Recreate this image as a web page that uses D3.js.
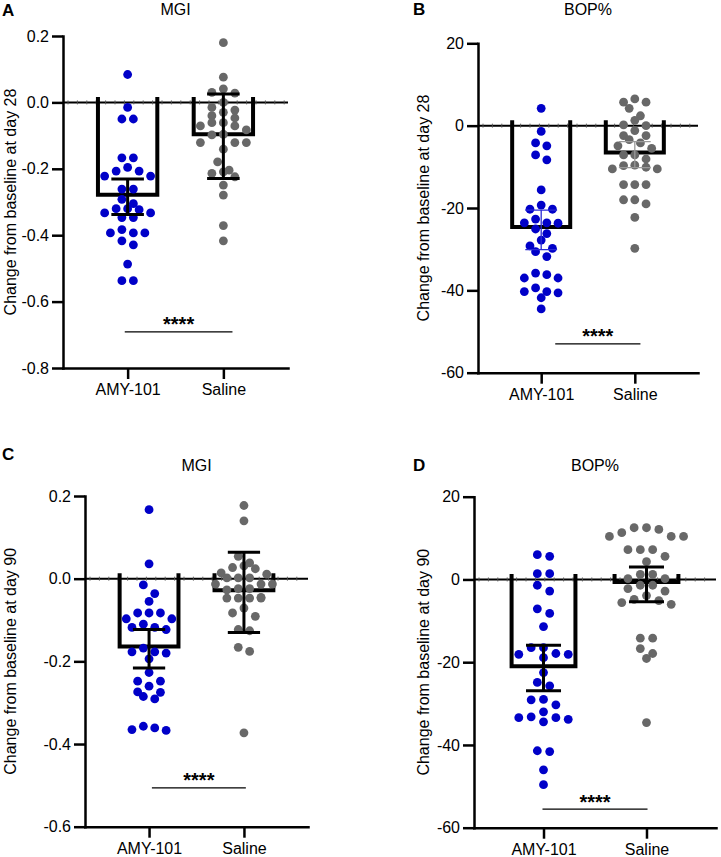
<!DOCTYPE html>
<html><head><meta charset="utf-8">
<script src="https://cdn.jsdelivr.net/npm/d3@7"></script>
<style>
body{margin:0;background:#fff}
svg{display:block}
text{font-family:"Liberation Sans",Arial,Helvetica,sans-serif;fill:#000}
</style>
</head><body>
<svg id="chart" width="721" height="857"></svg>
<script>
// ---------------- data ----------------
const categories = ["AMY-101", "Saline"];
const panelLetters = ["A", "B", "C", "D"];
const panelTitles = ["MGI", "BOP%", "MGI", "BOP%"];
const yAxisTitles = ["Change from baseline at day 28", "Change from baseline at day 28",
                     "Change from baseline at day 90", "Change from baseline at day 90"];
const yTicksMGI28 = [0.2, 0.0, -0.2, -0.4, -0.6, -0.8];
const yTicksBOP28 = [20, 0, -20, -40, -60];
const yTicksMGI90 = [0.2, 0.0, -0.2, -0.4, -0.6];
const yTicksBOP90 = [20, 0, -20, -40, -60];

const mgi28Amy = [0.084, -0.015, -0.050, -0.050, -0.167, -0.167, -0.196, -0.207, -0.207, -0.222, -0.222,
  -0.261, -0.261, -0.292, -0.305, -0.320, -0.320, -0.323, -0.333, -0.333, -0.347, -0.347, -0.383, -0.393,
  -0.393, -0.393, -0.417, -0.429, -0.487, -0.537, -0.537];
const mgi28Saline = [0.180, 0.076, 0.041, 0.030, 0.028, 0.000, -0.015, -0.023, -0.030, -0.040, -0.047,
  -0.061, -0.061, -0.071, -0.071, -0.083, -0.096, -0.098, -0.121, -0.121, -0.121, -0.141, -0.179, -0.204,
  -0.209, -0.214, -0.224, -0.249, -0.279, -0.371, -0.417];
const bop28Amy = [4.2, -1.4, -4.2, -4.9, -7.1, -8.3, -15.6, -19.3, -20.3, -20.3, -22.7, -23.6, -23.6, -23.7,
  -25.1, -26.2, -27.8, -29.2, -29.8, -30.6, -31.8, -35.8, -36.2, -37.0, -37.0, -39.4, -40.3, -40.3, -40.6,
  -41.8, -44.5];
const bop28Saline = [6.5, 5.7, 5.7, 4.2, 2.4, 1.3, 0.2, 0.0, -1.2, -2.4, -2.4, -3.4, -4.2, -4.9, -5.5, -7.1,
  -7.1, -8.1, -9.6, -9.7, -10.1, -10.5, -10.5, -14.3, -14.3, -14.3, -18.0, -18.0, -19.0, -22.3, -29.8];
const mgi90Amy = [0.167, 0.036, -0.015, -0.036, -0.055, -0.083, -0.083, -0.083, -0.097, -0.097, -0.110,
  -0.118, -0.118, -0.123, -0.168, -0.177, -0.177, -0.180, -0.194, -0.227, -0.248, -0.248, -0.260, -0.274,
  -0.275, -0.285, -0.291, -0.357, -0.361, -0.365, -0.367];
const mgi90Saline = [0.177, 0.140, 0.054, 0.038, 0.031, 0.027, 0.024, 0.014, 0.011, 0.002, 0.002, 0.002,
  -0.013, -0.013, -0.013, -0.024, -0.024, -0.027, -0.045, -0.047, -0.047, -0.047, -0.047, -0.071, -0.083,
  -0.091, -0.123, -0.126, -0.166, -0.176, -0.373];
const bop90Amy = [6.0, 5.6, 1.4, 1.4, -1.4, -2.8, -7.1, -8.2, -11.4, -16.5, -16.5, -17.9, -18.1, -18.1, -18.9,
  -22.5, -24.9, -25.7, -29.0, -29.1, -30.3, -32.0, -33.2, -33.4, -33.4, -33.8, -34.4, -41.4, -41.6, -46.0, -49.6];
const bop90Saline = [12.5, 12.5, 12.1, 11.3, 10.4, 10.4, 10.4, 7.2, 7.2, 7.2, 5.6, 4.3, 1.2, 1.2, 0.2, 0.2,
  -1.4, -1.4, -2.2, -2.8, -3.9, -4.8, -5.1, -5.6, -6.0, -14.2, -14.2, -16.7, -17.9, -19.1, -34.6];

// bar heights and error bar ends [AMY-101, Saline]
const mgi28Bar = [-0.278, -0.096], mgi28ErrHigh = [-0.231, 0.025], mgi28ErrLow = [-0.338, -0.229];
const bop28Bar = [-24.6, -6.5],  bop28ErrHigh = [-20.5, -3.9],  bop28ErrLow = [-30.1, -10.2];
const mgi90Bar = [-0.164, -0.028], mgi90ErrHigh = [-0.123, 0.064], mgi90ErrLow = [-0.216, -0.130];
const bop90Bar = [-21.0, -0.6],  bop90ErrHigh = [-15.9, 3.0],   bop90ErrLow = [-26.9, -5.4];

const sigLabel = "****";
const sigLevel = [-0.691, -53.0, -0.506, -55.5];
const sigSpan = [[-0.03, 1.095], [0.15, 1.06], [0.03, 1.02], [-0.01, 1.01]];

// ---------------- layout ----------------
const panels = [
  {ticks: yTicksMGI28, groups: [mgi28Amy, mgi28Saline], bar: mgi28Bar, hi: mgi28ErrHigh, lo: mgi28ErrLow, fmt: "mgi",
   x0: 63, x1: 288, yTop: 36, yBot: 368, letterX: 2, letterY: 16, titleY: 15, yTitleX: 10, thinErr: false},
  {ticks: yTicksBOP28, groups: [bop28Amy, bop28Saline], bar: bop28Bar, hi: bop28ErrHigh, lo: bop28ErrLow, fmt: "bop",
   x0: 478, x1: 698, yTop: 43.3, yBot: 372.7, letterX: 413, letterY: 15, titleY: 15, yTitleX: 423, thinErr: true},
  {ticks: yTicksMGI90, groups: [mgi90Amy, mgi90Saline], bar: mgi90Bar, hi: mgi90ErrHigh, lo: mgi90ErrLow, fmt: "mgi",
   x0: 85, x1: 308, yTop: 496, yBot: 826.7, letterX: 2, letterY: 460, titleY: 470.7, yTitleX: 10, thinErr: false},
  {ticks: yTicksBOP90, groups: [bop90Amy, bop90Saline], bar: bop90Bar, hi: bop90ErrHigh, lo: bop90ErrLow, fmt: "bop",
   x0: 474, x1: 716, yTop: 496.7, yBot: 827.7, letterX: 413, letterY: 470.7, titleY: 470.7, yTitleX: 423, thinErr: false}
];
const dotColors = ["#0000c8", "#686868"];
const thinErrColors = ["#2a2ad6", "#9a9a9a"];
const R = 4.4;

const svg = d3.select("#chart");

function swarm(vals, y, cx, s, binH) {
  const pts = vals.map(v => ({v, py: y(v)})).sort((a, b) => a.py - b.py);
  const rows = []; let cur = null;
  for (const p of pts) {
    if (!cur || p.py - cur.start >= binH) { cur = {start: p.py, pts: []}; rows.push(cur); }
    cur.pts.push(p);
  }
  rows.forEach(r => {
    const n = r.pts.length, order = [];
    if (n % 2) { order.push(0); for (let k = 1; order.length < n; k++) { order.push(-k); if (order.length < n) order.push(k); } }
    else { for (let k = 0.5; order.length < n; k++) { order.push(-k); if (order.length < n) order.push(k); } }
    r.pts.forEach((p, i) => p.px = cx + order[i] * s);
  });
  return pts;
}

panels.forEach((P, pi) => {
  const g = svg.append("g");
  const y = d3.scaleLinear().domain([d3.min(P.ticks), d3.max(P.ticks)]).range([P.yBot, P.yTop]);
  const x = d3.scalePoint().domain(categories).range([P.x0, P.x1]).padding(0.675);
  const step = x.step();
  const fmt = P.fmt === "mgi" ? (d => d3.format(".1f")(d).replace("\u2212", "-")) : (d => d3.format("d")(d).replace("\u2212", "-"));

  // zero line with minor ticks
  const y0 = y(0);
  g.append("line").attr("x1", P.x0).attr("x2", P.x1).attr("y1", y0).attr("y2", y0)
    .attr("stroke", "#000").attr("stroke-width", 2);
  g.selectAll(".mt").data(d3.range(P.x0 + 5, P.x1 - 2, 9.4)).join("line")
    .attr("x1", d => d).attr("x2", d => d).attr("y1", y0 - 2).attr("y2", y0 + 2)
    .attr("stroke", "#555").attr("stroke-width", 0.9);

  // bars (open outline)
  const bw = step * 0.62;
  categories.forEach((c, ci) => {
    const cx = x(c), xl = cx - bw / 2, xr = cx + bw / 2, yb = y(P.bar[ci]);
    g.append("path").attr("d", `M${xl},${y0 - 5.5}V${yb}H${xr}V${y0 - 5.5}`)
      .attr("fill", "none").attr("stroke", "#000").attr("stroke-width", 4).attr("stroke-linejoin", "miter");
  });

  // dots
  categories.forEach((c, ci) => {
    const pts = swarm(P.groups[ci], y, x(c), step * 0.12, 8.8);
    g.selectAll(".d" + ci).data(pts).join("circle")
      .attr("cx", d => d.px).attr("cy", d => d.py).attr("r", R).attr("fill", dotColors[ci]);
  });

  // error bars
  const cw = step * 0.34;
  categories.forEach((c, ci) => {
    const cx = x(c);
    const col = P.thinErr ? thinErrColors[ci] : "#000";
    const sw = P.thinErr ? 1.3 : 3;
    const eg = g.append("g").attr("stroke", col).attr("stroke-width", sw);
    eg.append("line").attr("x1", cx).attr("x2", cx).attr("y1", y(P.hi[ci])).attr("y2", y(P.lo[ci]));
    [P.hi[ci], P.lo[ci]].forEach(v => eg.append("line").attr("x1", cx - cw / 2).attr("x2", cx + cw / 2)
      .attr("y1", y(v)).attr("y2", y(v)));
  });

  // axes
  const ya = g.append("g").attr("transform", `translate(${P.x0},0)`)
    .call(d3.axisLeft(y).tickValues(P.ticks).tickSize(11).tickSizeOuter(0).tickPadding(3).tickFormat(fmt));
  const xa = g.append("g").attr("transform", `translate(0,${P.yBot})`)
    .call(d3.axisBottom(x).tickSize(11).tickSizeOuter(0).tickPadding(4.5));
  [ya, xa].forEach(a => {
    a.select(".domain").attr("stroke", "#000").attr("stroke-width", 2.5).attr("stroke-linecap", "square");
    a.selectAll(".tick line").attr("stroke", "#000").attr("stroke-width", 2.5);
    a.selectAll(".tick text").attr("font-size", 16).attr("font-family", "Liberation Sans, Arial, sans-serif").attr("fill", "#000");
  });

  // significance
  const xi = d3.scaleLinear().domain([0, 1]).range([x(categories[0]), x(categories[1])]);
  const sy = y(sigLevel[pi]);
  const sx0 = xi(sigSpan[pi][0]), sx1 = xi(sigSpan[pi][1]);
  g.append("line").attr("x1", sx0).attr("x2", sx1).attr("y1", sy).attr("y2", sy)
    .attr("stroke", "#000").attr("stroke-width", 1.2);
  g.append("text").attr("x", (sx0 + sx1) / 2).attr("y", sy - 0.5).attr("text-anchor", "middle")
    .attr("font-size", 20).attr("font-weight", "bold").text(sigLabel);

  // titles
  g.append("text").attr("x", (P.x0 + P.x1) / 2).attr("y", P.titleY).attr("text-anchor", "middle")
    .attr("font-size", 16).text(panelTitles[pi]);
  g.append("text").attr("x", P.letterX).attr("y", P.letterY).attr("font-size", 17).attr("font-weight", "bold")
    .text(panelLetters[pi]);
  const ym = (P.yTop + P.yBot) / 2;
  g.append("text").attr("transform", `translate(${P.yTitleX + 5.5},${ym}) rotate(-90)`)
    .attr("text-anchor", "middle").attr("font-size", 16).text(yAxisTitles[pi]);
});
</script>
</body></html>
